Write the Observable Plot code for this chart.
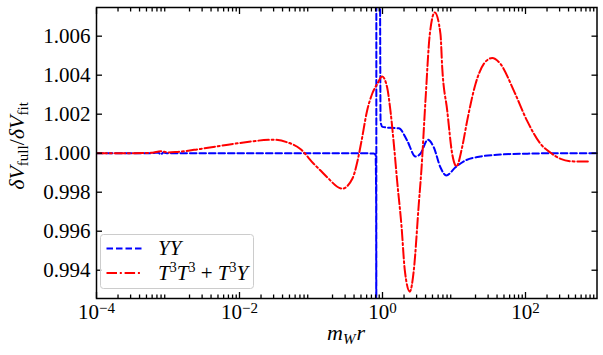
<!DOCTYPE html>
<html>
<head>
<meta charset="utf-8">
<script src="https://cdn.jsdelivr.net/npm/d3@7"></script>
<script src="https://cdn.jsdelivr.net/npm/@observablehq/plot@0.6"></script>
<style>
  html, body { margin: 0; padding: 0; background: #ffffff; }
  svg { display: block; }
  svg text { font-family: "Liberation Serif", serif !important; }
</style>
</head>
<body>
<div id="chart"></div>
<script>
// ---- data ----
const seriesNames = ["YY", "T3T3+T3Y"];

// YY (blue dashed)
const blueX = [1e-4, 3e-4, 6e-4, 7.3e-4, 7.9e-4, 8.6e-4, 1e-3, 1e-2, 0.1, 0.5, 0.75, 0.80, 0.815, 0.819,
               0.821, 0.83, 0.92, 0.94, 1.0, 1.29, 1.69, 2.21, 2.89, 3.39, 4.3, 5.2, 6.45, 7.8, 10.5, 14.5,
               23.4, 44.6, 117, 300, 1000];
const blueY = [1.0000, 1.0000, 1.0000, 1.00004, 0.99993, 1.00003, 1.0000, 1.0000, 1.0000, 1.0000, 0.99998, 0.99992, 0.9975, 0.985,
               1.02, 1.012, 1.009, 1.0016, 1.00135, 1.0013, 1.00128, 1.00065, 0.99983, 0.99997, 1.00069, 1.00031, 0.99928, 0.99886, 0.99928, 0.99963,
               0.99983, 0.99993, 0.99998, 1.0000, 1.0000];

// T3T3 + T3Y (red dash-dot)
const redX = [1e-4, 3e-4, 6e-4, 7.9e-4, 1.0e-3, 1.3e-3, 2.85e-3, 8.3e-3, 0.0304, 0.0464, 0.071, 0.109, 0.136, 0.168,
              0.273, 0.38, 0.447, 0.51, 0.61, 0.72, 0.843, 0.99, 1.16, 1.29, 1.44, 1.6, 1.85, 2.05, 2.41, 2.74,
              3.22, 3.51, 3.99, 4.59, 5.39, 6.47, 6.84, 8.03, 9.43, 10.8, 13.0, 15.3, 20.0, 26.1, 34.2, 44.6,
              68.6, 105, 162, 225, 310, 475, 815];
const redY = [1.0000, 1.0000, 1.00002, 1.0001, 1.00004, 1.00006, 1.00022, 1.00048, 1.00069, 1.00056, 1.00022, 0.99946, 0.99911, 0.99877,
              0.99818, 0.9987, 0.9996, 1.00065, 1.00219, 1.00306, 1.00355, 1.00393, 1.00338, 1.00219, 1.00048, 0.9986, 0.9962, 0.9940, 0.99290, 0.9940,
              0.99741, 0.9992, 1.0027, 1.00611, 1.00722, 1.00611, 1.0044, 1.0022, 0.99997, 0.99933, 1.00031, 1.00167, 1.00355, 1.00458, 1.00488, 1.00458,
              1.00321, 1.00167, 1.00048, 1.00002, 0.99971, 0.99958, 0.99958];

// axes
const xDomain = [1e-4, 1e3];
const yDomain = [0.99255, 1.00747];
const xMajorTicks = [1e-4, 1e-2, 1e0, 1e2];
const xTickLabels = ["10^−4", "10^−2", "10^0", "10^2"];
const yTicks = [0.994, 0.996, 0.998, 1.000, 1.002, 1.004, 1.006];

// minor ticks: 2..9 in every decade
const xMinorTicks = [];
for (let k = -4; k <= 2; k++) for (let m = 2; m <= 9; m++) xMinorTicks.push(m * Math.pow(10, k));

const blue = blueX.map((x, i) => ({x, y: blueY[i]}));
const red = redX.map((x, i) => ({x, y: redY[i]}));

const FONT = "'Liberation Serif', serif";
const tickStroke = 1.3;

const plot = Plot.plot({
  width: 603,
  height: 355,
  marginLeft: 96,
  marginRight: 6.5,
  marginTop: 7,
  marginBottom: 57,
  style: {fontFamily: FONT, fontSize: "21px", background: "#ffffff", color: "#000"},
  x: {type: "log", domain: xDomain, label: null},
  y: {domain: yDomain, label: null},
  marks: [
    Plot.line(blue, {x: "x", y: "y", stroke: "#0000ff", strokeWidth: 2, strokeDasharray: "6.5,3", curve: "monotone-x", clip: true}),
    Plot.line(red, {x: "x", y: "y", stroke: "#ff0000", strokeWidth: 2, strokeDasharray: "10.5,2.8,2,2.8", curve: "monotone-x", clip: true}),
    // inward ticks
    Plot.axisX({anchor: "bottom", ticks: xMajorTicks, tickSize: -6, tickFormat: () => "", strokeWidth: tickStroke, label: null}),
    Plot.axisX({anchor: "bottom", ticks: xMinorTicks, tickSize: -3.5, tickFormat: () => "", strokeWidth: tickStroke, label: null}),
    Plot.axisX({anchor: "top", ticks: xMajorTicks, tickSize: -6, tickFormat: () => "", strokeWidth: tickStroke, label: null}),
    Plot.axisX({anchor: "top", ticks: xMinorTicks, tickSize: -3.5, tickFormat: () => "", strokeWidth: tickStroke, label: null}),
    Plot.axisY({anchor: "left", ticks: yTicks, tickSize: -6, tickFormat: () => "", strokeWidth: tickStroke, label: null}),
    Plot.axisY({anchor: "right", ticks: yTicks, tickSize: -6, tickFormat: () => "", strokeWidth: tickStroke, label: null}),
    // tick labels
    Plot.axisX({anchor: "bottom", ticks: xMajorTicks, tickSize: 0, tickPadding: 6,
      tickFormat: d => xTickLabels[xMajorTicks.indexOf(d)], label: null}),
    Plot.axisY({anchor: "left", ticks: yTicks, tickSize: 0, tickPadding: 6, tickFormat: d3.format(".3f"), label: null}),
    Plot.frame({stroke: "#000", strokeWidth: 1.5})
  ]
});

document.getElementById("chart").appendChild(plot);
const svg = d3.select(plot);

// superscripts for the x tick labels
svg.selectAll("text").each(function() {
  const s = this.textContent;
  if (!s || s.indexOf("^") < 0) return;
  const [base, exp] = s.split("^");
  const t = d3.select(this);
  t.text(null);
  t.append("tspan").text(base);
  t.append("tspan").attr("dy", "-0.42em").attr("font-size", "15px").text(exp);
});

// x label: m_W r
const xl = svg.append("text")
  .attr("x", 346).attr("y", 340)
  .attr("text-anchor", "middle")
  .attr("font-size", 22).attr("fill", "#000");
xl.append("tspan").attr("font-style", "italic").text("m");
xl.append("tspan").attr("font-style", "italic").attr("font-size", 15).attr("dy", 4).text("W");
xl.append("tspan").attr("font-style", "italic").attr("dy", -4).attr("dx", 1).text("r");

// y label: δV_full / δV_fit
const yl = svg.append("text")
  .attr("transform", "translate(24,146) rotate(-90)")
  .attr("text-anchor", "middle")
  .attr("font-size", 22).attr("fill", "#000");
yl.append("tspan").attr("font-style", "italic").text("δV");
yl.append("tspan").attr("font-size", 15).attr("dy", 4).text("full");
yl.append("tspan").attr("dy", -4).text("/");
yl.append("tspan").attr("font-style", "italic").text("δV");
yl.append("tspan").attr("font-size", 15).attr("dy", 4).text("fit");

// legend
const lg = svg.append("g").attr("font-size", 21).attr("fill", "#000").attr("text-anchor", "start");
lg.append("rect").attr("x", 100.5).attr("y", 234.5).attr("width", 153).attr("height", 54).attr("rx", 3)
  .attr("fill", "#ffffff").attr("fill-opacity", 0.8).attr("stroke", "#cccccc").attr("stroke-width", 1);
lg.append("line").attr("x1", 106.5).attr("x2", 142.5).attr("y1", 248.5).attr("y2", 248.5)
  .attr("stroke", "#0000ff").attr("stroke-width", 2).attr("stroke-dasharray", "6.5,3");
lg.append("line").attr("x1", 106.5).attr("x2", 142.5).attr("y1", 273).attr("y2", 273)
  .attr("stroke", "#ff0000").attr("stroke-width", 2).attr("stroke-dasharray", "10.5,2.8,2,2.8");
const t1 = lg.append("text").attr("x", 158).attr("y", 255).attr("text-anchor", "start");
t1.append("tspan").attr("font-style", "italic").text("YY");
const t2 = lg.append("text").attr("x", 158).attr("y", 280).attr("text-anchor", "start");
t2.append("tspan").attr("font-style", "italic").text("T");
t2.append("tspan").attr("font-size", 14).attr("dy", -8).text("3");
t2.append("tspan").attr("font-style", "italic").attr("dy", 8).text("T");
t2.append("tspan").attr("font-size", 14).attr("dy", -8).text("3");
t2.append("tspan").attr("dy", 8).text(" + ");
t2.append("tspan").attr("font-style", "italic").text("T");
t2.append("tspan").attr("font-size", 14).attr("dy", -8).text("3");
t2.append("tspan").attr("font-style", "italic").attr("dy", 8).text("Y");
</script>
</body>
</html>
